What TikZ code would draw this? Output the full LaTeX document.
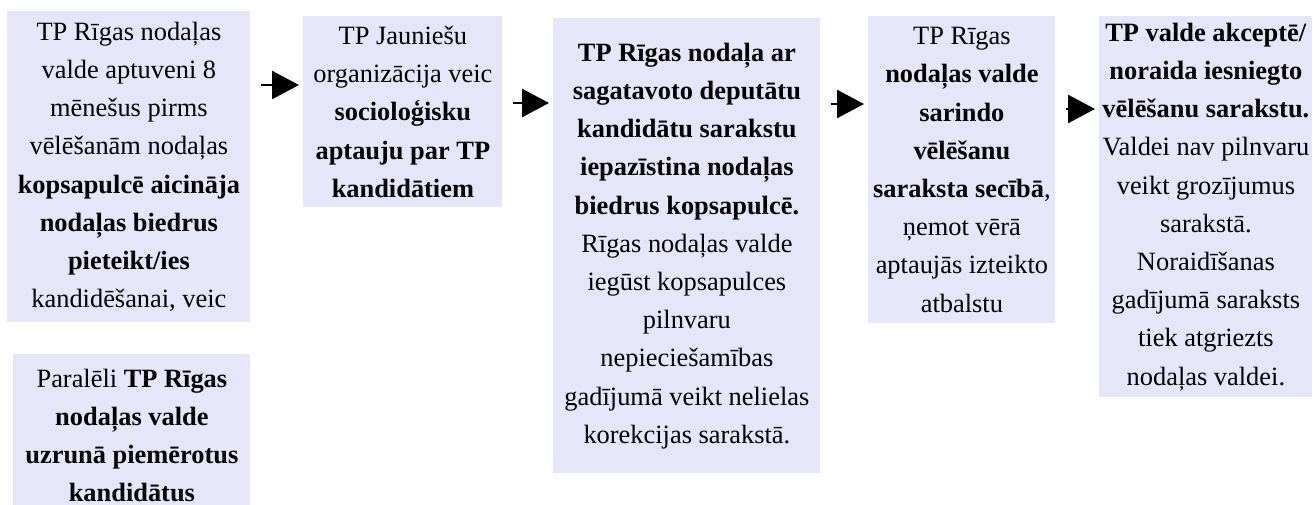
\documentclass[tikz,border=0pt]{standalone}
\usepackage{fontspec}
\setmainfont{Liberation Serif}
\usetikzlibrary{arrows.meta}
\definecolor{stagefill}{RGB}{230,230,250}
\begin{document}
\begin{tikzpicture}[x=1pt,y=1pt,
  stage/.style={rectangle, fill=stagefill, inner sep=0pt, anchor=north west, align=center, font=\fontsize{13.2}{19.1}\selectfont},
  flow/.style={-{Triangle[length=13.5pt,width=14pt]}, line width=1.3pt, shorten <=5pt, shorten >=2pt}]
\useasboundingbox (0,0) rectangle (656.5,252);
\clip (0,0) rectangle (656.5,252);
\node[stage, minimum width=121.5pt, minimum height=155.5pt] (s1) at (3.5,246.5) {TP Rīgas nodaļas\\
valde aptuveni 8\\
mēnešus pirms\\
vēlēšanām nodaļas\\
\textbf{kopsapulcē aicināja}\\
\textbf{nodaļas biedrus}\\
\textbf{pieteikt/ies}\\
kandidēšanai, veic};
\node[stage, minimum width=99.5pt, minimum height=95.5pt] (s2) at (151.5,244) {TP Jauniešu\\
organizācija veic\\
\textbf{socioloģisku}\\
\textbf{aptauju par TP}\\
\textbf{kandidātiem}};
\node[stage, minimum width=133.5pt, minimum height=227.5pt] (s3) at (276.5,243) {\textbf{TP Rīgas nodaļa ar}\\
\textbf{sagatavoto deputātu}\\
\textbf{kandidātu sarakstu}\\
\textbf{iepazīstina nodaļas}\\
\textbf{biedrus kopsapulcē.}\\
Rīgas nodaļas valde\\
iegūst kopsapulces\\
pilnvaru\\
nepieciešamības\\
gadījumā veikt nelielas\\
korekcijas sarakstā.};
\node[stage, minimum width=93.5pt, minimum height=153.5pt] (s4) at (434,244) {TP Rīgas\\
\textbf{nodaļas valde}\\
\textbf{sarindo}\\
\textbf{vēlēšanu}\\
\textbf{saraksta secībā},\\
ņemot vērā\\
aptaujās izteikto\\
atbalstu};
\node[stage, minimum width=106.5pt, minimum height=190.5pt] (s5) at (549.5,244) {\textbf{TP valde akceptē/}\\
\textbf{noraida iesniegto}\\
\textbf{vēlēšanu sarakstu.}\\
Valdei nav pilnvaru\\
veikt grozījumus\\
sarakstā.\\
Noraidīšanas\\
gadījumā saraksts\\
tiek atgriezts\\
nodaļas valdei.};
\node[stage, minimum width=118.5pt, minimum height=81pt] (par) at (6.5,75) {Paralēli \textbf{TP Rīgas}\\
\textbf{nodaļas valde}\\
\textbf{uzrunā piemērotus}\\
\textbf{kandidātus}};
\draw[flow] (s1.east |- 0,209.5) -- (s2.west |- 0,209.5);
\draw[flow] (s2.east |- 0,200.5) -- (s3.west |- 0,200.5);
\draw[flow] (s3.east |- 0,200) -- (s4.west |- 0,200);
\draw[flow] (s4.east |- 0,197.5) -- (s5.west |- 0,197.5);
\end{tikzpicture}
\end{document}
